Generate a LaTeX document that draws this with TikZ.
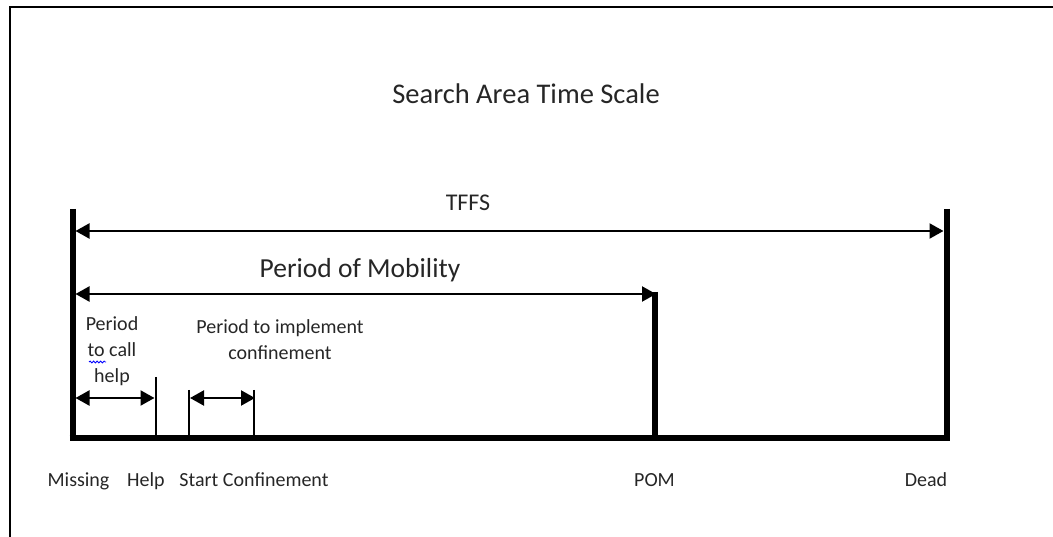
\documentclass[tikz,border=0pt]{standalone}
\usepackage{fontspec}
\setmainfont{Carlito}
\usetikzlibrary{arrows.meta,decorations.pathmorphing}
\tikzset{
  bar/.style={line width=6pt},
  tick/.style={line width=2pt},
  dim/.style={line width=2.2pt,{Triangle[length=14pt,width=15pt]}-{Triangle[length=14pt,width=15pt]}},
  frameline/.style={line width=2pt},
  lbl/.style={inner sep=0pt,font=\fontsize{20}{26}\selectfont,text=black!85},
  big/.style={inner sep=0pt,font=\fontsize{24}{29}\selectfont,text=black!85},
  mid/.style={inner sep=0pt,font=\fontsize{27.5}{32}\selectfont,text=black!85},
  ttl/.style={inner sep=0pt,font=\fontsize{28.5}{33}\selectfont,text=black!85},
}
\begin{document}
\begin{tikzpicture}[x=1pt,y=-1pt]
\useasboundingbox (0,0) rectangle (1053,537);
% frame
\coordinate (fTL) at (10,7);
\coordinate (fTR) at (1053,7);
\coordinate (fBL) at (10,537);
\draw[frameline] (fTR) -- (fTL) -- (fBL);
% main bars
\coordinate (Mtop) at (72.5,209);
\coordinate (Mbot) at (72.5,441);
\coordinate (Dtop) at (946.5,209);
\coordinate (Dbot) at (946.5,441);
\coordinate (Ptop) at (654.5,292);
\coordinate (Pbot) at (654.5,438);
\coordinate (BL) at (69.5,438);
\coordinate (BR) at (949.5,438);
\draw[bar] (Mtop) -- (Mbot);
\draw[bar] (Dtop) -- (Dbot);
\draw[bar] (BL) -- (BR);
\draw[bar] (Ptop) -- (Pbot);
% ticks
\coordinate (Htop) at (155.5,377);
\coordinate (Hbot) at (155.5,437);
\coordinate (Stop) at (189,390);
\coordinate (Sbot) at (189,437);
\coordinate (Ctop) at (254,390);
\coordinate (Cbot) at (254,437);
\draw[tick] (Htop) -- (Hbot);
\draw[tick] (Stop) -- (Sbot);
\draw[tick] (Ctop) -- (Cbot);
% dimension arrows
\coordinate (tffsL) at (75.5,231);
\coordinate (tffsR) at (943.5,231);
\coordinate (pomL) at (75.5,294);
\coordinate (pomR) at (656,294);
\coordinate (helpL) at (75.5,398);
\coordinate (helpR) at (154.5,398);
\coordinate (confL) at (190,398);
\coordinate (confR) at (255,398);
\draw[dim] (tffsL) -- (tffsR);
\draw[dim] (pomL) -- (pomR);
\draw[dim] (helpL) -- (helpR);
\draw[dim] (confL) -- (confR);
% texts
\node[ttl] (title) at (526,94) {Search Area Time Scale};
\node[big] (tffs) at (468,203) {TFFS};
\node[mid] (mob) at (360,270) {Period of Mobility};
\node[lbl,align=center] (callhelp) at (112,351) {Period\\to call\\help};
\coordinate (wavL) at (89,362);
\coordinate (wavR) at (106,362);
\draw[blue,line width=0.8pt,decorate,decoration={snake,amplitude=1pt,segment length=3.5pt}] (wavL) -- (wavR);
\node[lbl,align=center] (impl) at (280,340) {Period to implement\\confinement};
\node[lbl,anchor=base] (missing) at (78.5,486) {Missing};
\node[lbl,anchor=base] (help) at (146,486) {Help};
\node[lbl,anchor=base] (start) at (254,486) {Start Confinement};
\node[lbl,anchor=base] (pom) at (654.5,486) {POM};
\node[lbl,anchor=base] (dead) at (926,486) {Dead};
\end{tikzpicture}
\end{document}
